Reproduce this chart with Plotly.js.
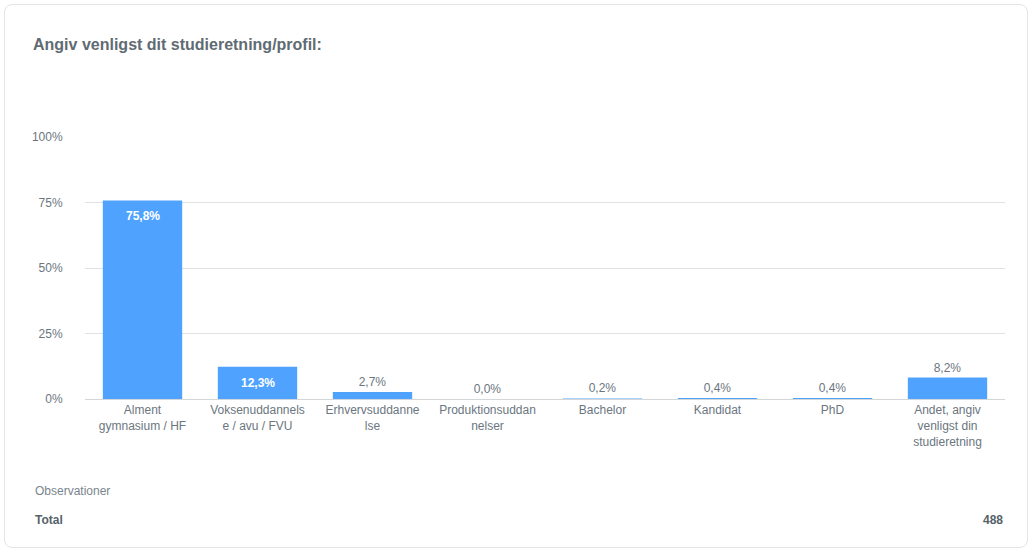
<!DOCTYPE html>
<html><head><meta charset="utf-8">
<script src="https://cdn.plot.ly/plotly-3.0.1.min.js"></script>
<style>
html,body{margin:0;padding:0;background:#fff;}
#card{position:absolute;left:4px;top:4px;width:1024px;height:544px;border:1px solid #e3e5e8;border-radius:8px;box-sizing:border-box;}
#chart{position:absolute;left:0;top:0;width:1033px;height:554px;}
</style></head>
<body>
<div id="card"></div>
<div id="chart"></div>
<script>
const categories = ["Alment<br>gymnasium / HF","Voksenuddannels<br>e / avu / FVU","Erhvervsuddanne<br>lse","Produktionsuddan<br>nelser","Bachelor","Kandidat","PhD","Andet, angiv<br>venligst din<br>studieretning"];
const percentages = [75.8, 12.3, 2.7, 0.0, 0.2, 0.4, 0.4, 8.2];
const labelInside = [true, true, false, false, false, false, false, false];
const totalObservations = 488;
const yTicks = [0, 25, 50, 75, 100];
const yTickText = ["0%", "25%", "50%", "75%", "100%"];

const gray = "#6b7680";
const FONT = "Liberation Sans, Arial, sans-serif";
const fmt = v => v.toFixed(1).replace(".", ",") + "%";

const trace = {
  type: "bar",
  x: categories,
  y: percentages,
  marker: {color: "#4fa3ff"},
  text: percentages.map((v, i) => labelInside[i] ? "" : fmt(v)),
  texttemplate: "%{text}",
  textposition: "outside",
  outsidetextfont: {color: gray, size: 12, family: FONT},
  cliponaxis: false,
  hoverinfo: "skip"
};

const insideAnnotations = percentages.map((v, i) => labelInside[i] ? {
  text: "<b>" + fmt(v) + "</b>", xref: "x", yref: "y", x: categories[i], y: v,
  yanchor: "middle", yshift: -16, showarrow: false, font: {size: 12, color: "#ffffff", family: FONT}
} : null).filter(a => a);

const layout = {
  width: 1033, height: 554,
  paper_bgcolor: "rgba(0,0,0,0)", plot_bgcolor: "rgba(0,0,0,0)",
  margin: {l: 85, r: 28, t: 137, b: 155},
  font: {family: FONT, size: 12, color: gray},
  title: {text: "<b>Angiv venligst dit studieretning/profil:</b>", xref: "container", yref: "container",
          x: 33/1033, xanchor: "left", y: 1 - 44/554, yanchor: "middle",
          font: {size: 16, color: "#5f6b73", family: FONT}},
  bargap: 0.31,
  showlegend: false,
  xaxis: {tickvals: categories, ticktext: categories, showgrid: false, showline: true, linecolor: "#d4d7da", linewidth: 1,
          tickfont: {size: 12, color: gray}, fixedrange: true, zeroline: false},
  yaxis: {range: [0, 100], tickvals: yTicks, ticktext: yTickText, showgrid: true, gridcolor: "#dfe1e4", gridwidth: 1,
          zeroline: false, showline: false, ticks: "outside", ticklen: 19, tickcolor: "rgba(0,0,0,0)",
          tickfont: {size: 12, color: gray}, fixedrange: true},
  annotations: insideAnnotations.concat([
    {text: "Observationer", xref: "paper", yref: "paper", x: (33-85)/920, y: (399-491)/262, xanchor: "left", yanchor: "middle", showarrow: false, font: {size: 12, color: "#7a858d"}},
    {text: "<b>Total</b>", xref: "paper", yref: "paper", x: (33-85)/920, y: (399-520)/262, xanchor: "left", yanchor: "middle", showarrow: false, font: {size: 12, color: "#56626a"}},
    {text: "<b>" + totalObservations + "</b>", xref: "paper", yref: "paper", x: 1, y: (399-520)/262, xanchor: "right", yanchor: "middle", showarrow: false, font: {size: 12, color: "#56626a"}}
  ])
};
Plotly.newPlot("chart", [trace], layout, {displayModeBar: false, staticPlot: true});
</script>
</body></html>
